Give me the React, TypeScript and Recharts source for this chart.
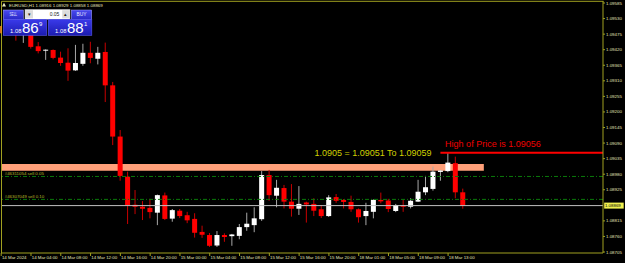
import React from 'react';
import { ComposedChart, Bar, XAxis, YAxis, ReferenceLine, ReferenceArea, ReferenceDot } from 'recharts';

// ---------- data ----------
const symbolLabel = 'EURUSD,H1';
const lotSize = '0.05';
const askPrice = 1.08881;

// hourly bars from 14 Mar 2024 00:00 (index 0) to 18 Mar 15:00 (index 62)
const opens: (number | null)[] = [
  null, null, 1.09511, 1.09479, 1.0949, 1.09432, 1.09418, 1.09419, 1.09392, 1.09374,
  1.09347, 1.0937, 1.09409, 1.09388, 1.09412, 1.09294, 1.09113, 1.08971, 1.08872, 1.08865,
  1.08861, 1.08844, 1.08905, 1.08823, 1.08851, 1.08835, 1.08822, 1.08776, 1.08765, 1.08728,
  1.08765, 1.08761, 1.08762, 1.08793, 1.088, 1.08821, 1.08977, 1.08904, 1.08931, 1.08883,
  1.08858, 1.0888, 1.08875, 1.08856, 1.08832, 1.08899, 1.08889, 1.08882, 1.08856, 1.08832,
  1.08847, 1.08889, 1.08887, 1.0885, 1.08869, 1.08865, 1.08883, 1.08916, 1.08928, 1.08988,
  1.08991, 1.09019, 1.08916,
];
const highs: (number | null)[] = [
  null, null, 1.09525, 1.09511, 1.09504, 1.09447, 1.09421, 1.09421, 1.09413, 1.09425,
  1.09437, 1.09441, 1.09448, 1.0943, 1.09445, 1.09306, 1.09136, 1.08989, 1.08924, 1.08885,
  1.08893, 1.08908, 1.08915, 1.08857, 1.08857, 1.08847, 1.08842, 1.08798, 1.08772, 1.08779,
  1.08771, 1.08769, 1.08804, 1.08844, 1.08863, 1.08991, 1.08995, 1.0896, 1.08942, 1.08945,
  1.08938, 1.08883, 1.08895, 1.08871, 1.08906, 1.0891, 1.08892, 1.08904, 1.08859, 1.08879,
  1.08891, 1.08915, 1.08893, 1.08875, 1.08889, 1.08895, 1.0896, 1.08974, 1.09007, 1.08995,
  1.09056, 1.09042, 1.08929,
];
const lows: (number | null)[] = [
  null, null, 1.09452, 1.09444, 1.09424, 1.09407, 1.09384, 1.09386, 1.09363, 1.0931,
  1.09345, 1.09363, 1.09372, 1.09368, 1.09235, 1.09083, 1.08957, 1.08804, 1.08839, 1.08818,
  1.08824, 1.088, 1.08818, 1.08812, 1.08825, 1.08807, 1.08756, 1.08755, 1.08723, 1.08723,
  1.08741, 1.08727, 1.0875, 1.0878, 1.08775, 1.08815, 1.08886, 1.08863, 1.08859, 1.0883,
  1.08836, 1.08809, 1.08832, 1.08825, 1.08829, 1.08879, 1.08859, 1.08847, 1.08809, 1.088,
  1.08824, 1.08877, 1.08846, 1.08846, 1.08847, 1.08859, 1.08882, 1.08906, 1.08922, 1.08957,
  1.08987, 1.08895, 1.08858,
];
const closes: (number | null)[] = [
  null, null, 1.09483, 1.09497, 1.0943, 1.09415, 1.0942, 1.09391, 1.09373, 1.09346,
  1.09373, 1.09409, 1.09391, 1.09409, 1.09294, 1.09113, 1.08974, 1.0887, 1.08865, 1.08858,
  1.08846, 1.08906, 1.08822, 1.08853, 1.08832, 1.08817, 1.08773, 1.08766, 1.08727, 1.08765,
  1.08758, 1.08767, 1.08793, 1.08805, 1.08824, 1.08977, 1.08906, 1.08932, 1.08883, 1.08858,
  1.08875, 1.08873, 1.08851, 1.08832, 1.08898, 1.08886, 1.08882, 1.08856, 1.08828, 1.0885,
  1.08889, 1.08884, 1.08857, 1.08871, 1.08865, 1.08886, 1.08918, 1.08934, 1.08989, 1.08993,
  1.09021, 1.08916, 1.08869,
];

const xTickIndex = [0, 4, 8, 12, 16, 20, 24, 28, 32, 36, 40, 44, 48, 52, 56, 60];
const xTickLabels = [
  '14 Mar 2024', '14 Mar 04:00', '14 Mar 08:00', '14 Mar 12:00', '14 Mar 16:00', '14 Mar 20:00',
  '15 Mar 00:00', '15 Mar 04:00', '15 Mar 08:00', '15 Mar 12:00', '15 Mar 16:00', '15 Mar 20:00',
  '18 Mar 01:00', '18 Mar 05:00', '18 Mar 09:00', '18 Mar 13:00',
];
const yTicks = [
  1.09585, 1.0953, 1.09475, 1.0942, 1.09365, 1.0931, 1.09255, 1.092, 1.09145, 1.0909,
  1.09035, 1.0898, 1.08925, 1.0887, 1.08815, 1.0876, 1.08705,
];

const orderLevels = [1.08972, 1.08891];
const orderLabels = ['#46311054 sell 0.05', '#46307049 sell 0.10'];

const zoneLow = 1.08992;
const zoneHigh = 1.09016;
const zoneEndIndex = 64.8;
const zoneText = '1.0905 = 1.09051 To 1.09059';
const zoneTextAnchor = { x: 42.05, y: 1.09046 };

const highLevel = 1.09056;
const highStartIndex = 58.97;
const highText = 'High of Price is 1.09056';

// ---------- styling ----------
const X_DOMAIN: [number, number] = [0, 80.8];
const Y_DOMAIN: [number, number] = [1.087015, 1.095921];
const AXIS = '#a0a020';
const AXIS_TEXT = '#e4e4b8';
const FONT = 'Liberation Sans, Arial, sans-serif';
const SMALL = 4.4;

const lastIdx = closes.length - 1;
const bid = closes[lastIdx] as number;

const rows = opens
  .map((o, i) => ({
    i,
    open: o,
    high: highs[i],
    low: lows[i],
    close: closes[i],
    range: o == null ? null : [lows[i], highs[i]],
  }))
  .filter((r) => r.open != null);

const Candle = (props: any) => {
  const { x, y, width, height, payload } = props;
  if (!payload || payload.open == null || x == null || y == null) return null;
  const { open, close, high, low } = payload;
  const top = Math.min(y, y + height);
  const h = Math.abs(height);
  const span = high - low;
  const py = (v: number) => (span > 0 ? top + ((high - v) / span) * h : top);
  const cx = x + width / 2;
  const bull = close >= open;
  const yO = py(open);
  const yC = py(close);
  const bTop = Math.min(yO, yC);
  const bH = Math.max(Math.abs(yO - yC), 1);
  return (
    <g>
      <line x1={cx} x2={cx} y1={top} y2={top + h} stroke={bull ? '#a8a8a8' : '#c80000'} strokeWidth={1} />
      <rect x={cx - 2.5} y={bTop} width={5} height={bH} fill={bull ? '#ffffff' : '#ff0000'} />
    </g>
  );
};

const XTick = (props: any) => {
  const { x, y, payload } = props;
  const k = xTickIndex.indexOf(payload.value);
  return (
    <text x={x + 0.7} y={y} dy={3.3} fontSize={SMALL} fontFamily={FONT} fill={AXIS_TEXT} textAnchor="start">
      {k >= 0 ? xTickLabels[k] : ''}
    </text>
  );
};

const YTick = (props: any) => {
  const { x, y, payload } = props;
  return (
    <text x={x} y={y} dy={1.55} fontSize={SMALL} fontFamily={FONT} fill={AXIS_TEXT} textAnchor="start">
      {Number(payload.value).toFixed(5)}
    </text>
  );
};

const splitPrice = (p: number) => {
  const s = p.toFixed(5);
  return { head: s.slice(0, 4), big: s.slice(4, 6), tail: s.slice(6) };
};

const PriceBox = ({ x, p }: { x: number; p: number }) => {
  const parts = splitPrice(p);
  return (
    <g>
      <rect x={x} y={19.3} width={43.5} height={16} fill="url(#pbox)" stroke="#5a5af0" strokeWidth={0.6} />
      <text x={x + 6.8} y={33.3} fontSize={5.8} fill="#ffffff" fontFamily={FONT}>{parts.head}</text>
      <text x={x + 18.6} y={33.3} fontSize={15} fill="#ffffff" fontFamily={FONT}>{parts.big}</text>
      <text x={x + 35.8} y={26.2} fontSize={6} fill="#ffffff" fontFamily={FONT}>{parts.tail}</text>
    </g>
  );
};

const Overlay = () => {
  const o = opens[lastIdx] as number;
  const h = highs[lastIdx] as number;
  const l = lows[lastIdx] as number;
  const header = `${symbolLabel}  ${o.toFixed(5)} ${h.toFixed(5)} ${l.toFixed(5)} ${bid.toFixed(5)}`;
  return (
    <svg width={625} height={263} style={{ position: 'absolute', left: 0, top: 0, pointerEvents: 'none' }}>
      <defs>
        <linearGradient id="pbox" x1="0" y1="0" x2="0" y2="1">
          <stop offset="0" stopColor="#3a3aea" />
          <stop offset="1" stopColor="#1c1cb0" />
        </linearGradient>
        <linearGradient id="btn" x1="0" y1="0" x2="0" y2="1">
          <stop offset="0" stopColor="#4a4af0" />
          <stop offset="1" stopColor="#2a2ac8" />
        </linearGradient>
      </defs>
      {/* frame top/left */}
      <line x1={1.5} x2={603.5} y1={1.3} y2={1.3} stroke={AXIS} strokeWidth={1} />
      <line x1={1.5} x2={1.5} y1={1.3} y2={253.3} stroke={AXIS} strokeWidth={1} />
      {/* header */}
      <polygon points="2,6.5 4,2.8 6,6.5" fill="#e8e8c0" />
      <text x={9} y={6.6} fontSize={SMALL} fontFamily={FONT} fill={AXIS_TEXT}>{header}</text>
      {/* one-click panel */}
      <rect x={0.2} y={26} width={1.4} height={7.3} fill="#ff8c1a" />
      <rect x={3.3} y={10} width={20} height={9.3} fill="url(#btn)" stroke="#a8a8ff" strokeWidth={0.5} />
      <text x={13.3} y={16} fontSize={5} fontFamily={FONT} fill="#e8e8ff" textAnchor="middle" textLength={7.4} lengthAdjust="spacingAndGlyphs">SELL</text>
      <rect x={25} y={9.3} width={45} height={10} fill="#ffffff" stroke="#9a9a9a" strokeWidth={0.6} />
      <rect x={25.8} y={10.2} width={7.2} height={8.2} fill="#dcdcdc" />
      <rect x={62.2} y={10.2} width={7} height={8.2} fill="#dcdcdc" />
      <text x={29.4} y={15.6} fontSize={4.5} fontFamily={FONT} fill="#202020" textAnchor="middle">▾</text>
      <text x={65.7} y={15.8} fontSize={4.5} fontFamily={FONT} fill="#202020" textAnchor="middle">▴</text>
      <text x={59.4} y={16} fontSize={5} fontFamily={FONT} fill="#202020" textAnchor="end">{lotSize}</text>
      <rect x={71.3} y={10} width={20.4} height={9.3} fill="url(#btn)" stroke="#a8a8ff" strokeWidth={0.5} />
      <text x={81.5} y={16} fontSize={5} fontFamily={FONT} fill="#e8e8ff" textAnchor="middle" textLength={10} lengthAdjust="spacingAndGlyphs">BUY</text>
      <PriceBox x={3.3} p={bid} />
      <PriceBox x={48.3} p={askPrice} />
    </svg>
  );
};

export default function App() {
  return (
    <div style={{ position: 'absolute', left: 0, top: 0, width: 625, height: 263, background: '#000', overflow: 'hidden' }}>
      <ComposedChart width={625} height={263} data={rows} margin={{ top: 1, right: 0, bottom: 0, left: 1.2 }}>
        <XAxis
          dataKey="i"
          type="number"
          domain={X_DOMAIN}
          allowDataOverflow
          ticks={xTickIndex}
          interval={0}
          height={10}
          tickSize={3}
          tickMargin={0}
          axisLine={{ stroke: AXIS }}
          tickLine={{ stroke: AXIS }}
          tick={<XTick />}
        />
        <YAxis
          orientation="right"
          type="number"
          domain={Y_DOMAIN}
          allowDataOverflow
          ticks={yTicks.filter((t) => Math.abs(t - bid) > 0.00006)}
          interval={0}
          width={22}
          tickSize={2}
          tickMargin={1}
          axisLine={{ stroke: AXIS }}
          tickLine={{ stroke: AXIS }}
          tick={<YTick />}
        />
        <ReferenceArea x1={X_DOMAIN[0]} x2={zoneEndIndex} y1={zoneLow} y2={zoneHigh} fill="#ffa07a" fillOpacity={1} stroke="none" />
        {orderLevels.map((lv, k) => (
          <ReferenceLine
            key={k}
            y={lv}
            stroke="#0a7a0a"
            strokeDasharray="4 2 1 2"
            strokeWidth={1}
            label={(p: any) => (
              <text x={p.viewBox.x + 3.5} y={p.viewBox.y - 1.1} fontSize={SMALL} fontFamily={FONT} fill="#b8b828">
                {orderLabels[k]}
              </text>
            )}
          />
        ))}
        <ReferenceLine
          y={bid}
          stroke="#c0c0c0"
          strokeWidth={1}
          label={(p: any) => (
            <g>
              <rect x={p.viewBox.x + p.viewBox.width + 1.2} y={p.viewBox.y - 3} width={19.5} height={6} fill="#f0f050" />
              <text x={p.viewBox.x + p.viewBox.width + 1.9} y={p.viewBox.y + 1.6} fontSize={SMALL} fontFamily={FONT} fill="#000">
                {bid.toFixed(5)}
              </text>
            </g>
          )}
        />
        <ReferenceLine
          segment={[{ x: highStartIndex, y: highLevel }, { x: X_DOMAIN[1], y: highLevel }]}
          stroke="#ff0000"
          strokeWidth={2}
          label={(p: any) => (
            <text x={p.viewBox.x + 4.7} y={p.viewBox.y - 5.4} fontSize={9} fontFamily={FONT} fill="#f00000">
              {highText}
            </text>
          )}
        />
        <ReferenceDot
          x={zoneTextAnchor.x}
          y={zoneTextAnchor.y}
          r={0.5}
          fill="none"
          stroke="none"
          label={(p: any) => (
            <text x={p.viewBox.x + p.viewBox.width / 2} y={p.viewBox.y + p.viewBox.height / 2} fontSize={9} fontFamily={FONT} fill="#d0d000">
              {zoneText}
            </text>
          )}
        />
        <Bar dataKey="range" barSize={5} isAnimationActive={false} shape={(p: any) => <Candle {...p} />} />
      </ComposedChart>
      <Overlay />
    </div>
  );
}
